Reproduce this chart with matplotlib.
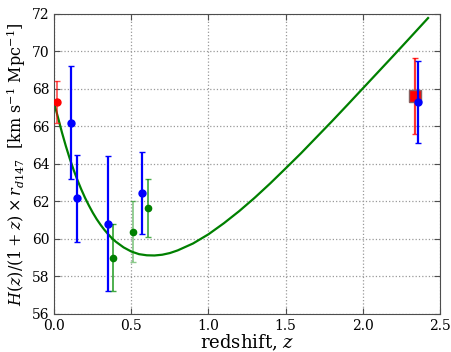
import matplotlib
matplotlib.use("Agg")
import matplotlib.pyplot as plt

plt.rcParams['font.family'] = 'DejaVu Serif'
plt.rcParams['mathtext.fontset'] = 'dejavuserif'

# model curve
curve_z = [0.0, 0.025, 0.05, 0.075, 0.1, 0.125, 0.15, 0.175, 0.2, 0.225, 0.25, 0.275, 0.3,
           0.325, 0.35, 0.375, 0.4, 0.45, 0.5, 0.55, 0.6, 0.65, 0.7, 0.75,
           0.8, 0.9, 1.0, 1.1, 1.2, 1.3, 1.4, 1.5, 1.6, 1.7, 1.8, 1.9, 2.0, 2.1, 2.2, 2.3, 2.424]
curve_h = [67.2, 66.45, 65.67, 64.95, 64.29, 63.69, 63.14, 62.64, 62.18, 61.77, 61.39, 61.05, 60.75,
           60.48, 60.24, 60.02, 59.84, 59.54, 59.32, 59.18, 59.12, 59.11, 59.15, 59.24,
           59.38, 59.75, 60.24, 60.83, 61.48, 62.19, 62.95, 63.75, 64.56, 65.41,
           66.26, 67.13, 68.01, 68.89, 69.77, 70.66, 71.77]

# blue points
blue_z = [0.106, 0.15, 0.35, 0.57, 2.36]
blue_h = [66.2, 62.15, 60.8, 62.45, 67.3]
blue_err = [3.0, 2.33, 3.6, 2.2, 2.2]

# green points
green_z = [0.38, 0.51, 0.61]
green_h = [59.0, 60.38, 61.66]
green_err = [1.8, 1.63, 1.55]

# red points
red_z = [0.02]
red_h = [67.3]
red_err = [1.1]
redsq_z = [2.34]
redsq_h = [67.6]
redsq_err = [2.03]

fig = plt.figure(figsize=(4.52, 3.52), dpi=100)
ax = fig.add_axes([0.120, 0.1085, 0.853, 0.8525])

ax.plot(curve_z, curve_h, color='green', lw=1.6, zorder=2)

ax.errorbar(red_z, red_h, yerr=red_err, fmt='o', color='red', ecolor=(1, 0, 0, 0.7),
            ms=5, mec='red', elinewidth=1.2, capsize=2.5, zorder=3)
ax.errorbar(redsq_z, redsq_h, yerr=redsq_err, fmt='s', color='red', ecolor=(1, 0, 0, 0.8),
            ms=8, mec='#886060', elinewidth=1.6, capsize=2.5, zorder=3)
ax.errorbar(blue_z, blue_h, yerr=blue_err, fmt='o', color='blue', ecolor='blue',
            ms=5, mec='blue', elinewidth=1.6, capsize=2.5, zorder=4)
for z, h, e, a in zip(green_z, green_h, green_err, [0.75, 0.45, 0.7]):
    ax.errorbar([z], [h], yerr=[e], fmt='o', color='green', ecolor=(0.0, 0.55, 0.0, a),
                ms=4.5, mec='green', elinewidth=1.3, capsize=2.5, zorder=4)

ax.set_xlim(0, 2.5)
ax.set_ylim(56, 72)
ax.set_xticks([0.0, 0.5, 1.0, 1.5, 2.0, 2.5])
ax.set_yticks(range(56, 73, 2))
ax.grid(True, color='0.6', linestyle=':', linewidth=0.9)
ax.tick_params(direction='in', top=True, right=True, labelsize=10, length=4, color='0.3')
for s in ax.spines.values():
    s.set_color('0.3')

ax.set_xlabel(r'redshift, $z$', fontsize=13, labelpad=0)
ax.set_ylabel(r'$H(z)/(1+z)\times r_{d147}$  $[\mathrm{km\ s^{-1}\ Mpc^{-1}}]$', fontsize=11.5, labelpad=3)

fig.savefig('out.png', dpi=100, facecolor='white')
